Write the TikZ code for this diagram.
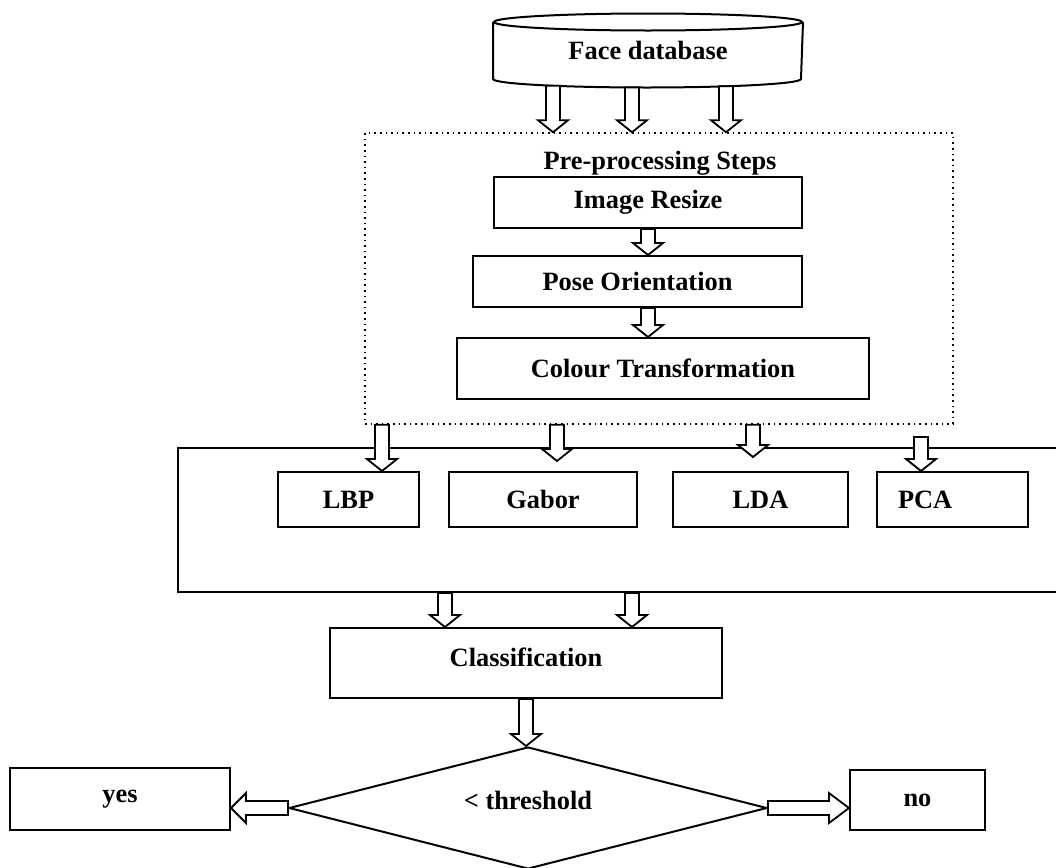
\documentclass[tikz,border=0pt]{standalone}
\usepackage{fontspec}
\setmainfont{Liberation Serif}
\usetikzlibrary{positioning,calc,shapes.geometric}

\begin{document}
\begin{tikzpicture}[x=0.5pt, y=-0.5pt,
    box/.style={draw, line width=1pt, fill=white, inner sep=0pt,
        font=\bfseries\fontsize{13.2}{15}\selectfont},
    blk/.style={draw, line width=0.9pt, fill=white, to path={
        -- ($(\tikztostart)!3.5pt!90:(\tikztotarget)$)
        -- ($($(\tikztotarget)!#1!(\tikztostart)$)!3.5pt!90:(\tikztotarget)$)
        -- ($($(\tikztotarget)!#1!(\tikztostart)$)!7.5pt!90:(\tikztotarget)$)
        -- (\tikztotarget)
        -- ($($(\tikztotarget)!#1!(\tikztostart)$)!7.5pt!-90:(\tikztotarget)$)
        -- ($($(\tikztotarget)!#1!(\tikztostart)$)!3.5pt!-90:(\tikztotarget)$)
        -- ($(\tikztostart)!3.5pt!-90:(\tikztotarget)$)
        -- cycle}},
    blk/.default=6pt]
    \useasboundingbox (0,0) rectangle (1056,868);
    \clip (0,0) rectangle (1056,868);

    % Face database
    \node[box, draw=none, fill=none, minimum width=154pt, minimum height=27.5pt] (db) at (648,50.5) {Face database};
    \draw[line width=1pt] (db.north west) -- (db.south west)
        arc[start angle=180, end angle=360, x radius=77pt, y radius=4.25pt]
        -- (db.north east);
    \draw[line width=1pt] (db.north) ellipse[x radius=77pt, y radius=4.25pt];

    % Pre-processing steps
    \node[draw, dotted, line width=0.8pt, minimum width=294pt, minimum height=145.5pt] (pre) at (659,278.5) {};
    \node[box, draw=none, fill=none] (pretitle) at (660,163) {Pre-processing Steps};
    \node[box, minimum width=154pt, minimum height=25.5pt] (resize) at (648,202.5) {Image Resize};
    \node[box, minimum width=164.5pt, minimum height=25.5pt] (pose) at (637.5,281.5) {Pose Orientation};
    \node[box, minimum width=206pt, minimum height=30.5pt] (colour) at (663,368.5) {Colour Transformation};

    % Feature extraction
    \node[box, minimum width=446pt, minimum height=72pt] (feat) at (624,520) {};
    \node[box, minimum width=70.5pt, minimum height=27.5pt] (lbp) at (348.5,499.5) {LBP};
    \node[box, minimum width=94pt, minimum height=27.5pt] (gabor) at (543,499.5) {Gabor};
    \node[box, minimum width=87.5pt, minimum height=27.5pt] (lda) at (760.5,499.5) {LDA};
    \node[box, minimum width=75.5pt, minimum height=27.5pt, text width=54.5pt, align=left, inner xsep=10.5pt] (pca) at (952.5,499.5) {PCA};

    % Classification and decision
    \node[box, minimum width=196pt, minimum height=35pt, text depth=6pt] (cls) at (526,663) {Classification};
    \node[box, diamond, aspect=3.9, minimum width=239pt, minimum height=61pt, text depth=8pt] (thr) at (528,808) {< threshold};
    \node[box, minimum width=110pt, minimum height=31pt] (yes) at (120,799) {yes};
    \node[box, minimum width=67.5pt, minimum height=30pt] (no) at (917.5,800) {no};

    % Arrows
    \foreach \dx/\dy [count=\i] in {-47.5/3.35,-8/4.23,39/3.66} {
        \coordinate (dbout\i) at ([xshift=\dx pt, yshift=-\dy pt]db.south);
        \draw[blk] (dbout\i) to (dbout\i |- pre.north);
    }
    \draw[blk] (resize.south) to (resize.south |- pose.north);
    \draw[blk] (resize.south |- pose.south) to (resize.south |- colour.north);

    \coordinate (lbpin) at ([xshift=16.75pt]lbp.north);
    \coordinate (gaborin) at ([xshift=7pt, yshift=5pt]gabor.north);
    \coordinate (ldain) at ([xshift=-3.75pt, yshift=7pt]lda.north);
    \coordinate (pcain) at ([xshift=-15.75pt]pca.north);
    \foreach \c in {lbpin,gaborin,ldain} {
        \draw[blk] (\c |- pre.south) to (\c);
    }
    \draw[blk] ([yshift=17pt]pcain) to (pcain);

    \foreach \dx [count=\i] in {-40.5,53} {
        \coordinate (clsin\i) at ([xshift=\dx pt]cls.north);
        \draw[blk] (clsin\i |- feat.south) to (clsin\i);
    }
    \draw[blk] (cls.south) to (cls.south |- thr.north);
    \draw[blk=7.5pt] (thr.west) to (thr.west -| yes.east);
    \draw[blk=10pt] (thr.east) to (thr.east -| no.west);
\end{tikzpicture}
\end{document}
